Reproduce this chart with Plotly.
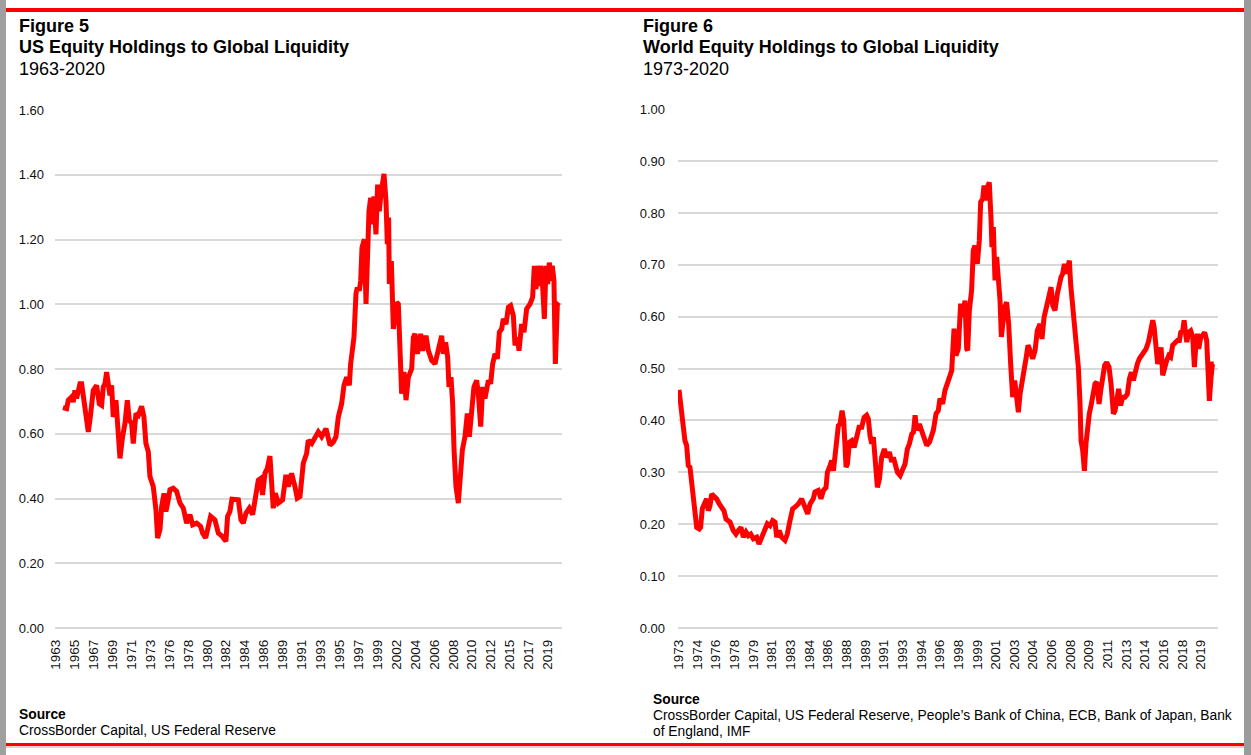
import plotly.graph_objects as go

W, H = 1251, 755

# Figure 5: US equity holdings / global liquidity (decimal years, ratio)
US_YEARS = [
    1963.82, 1964.24, 1964.43, 1964.81, 1965.00, 1965.19, 1965.38, 1965.58, 1965.77, 1965.96,
    1966.15, 1966.34, 1966.53, 1966.72, 1966.91, 1967.10, 1967.29, 1967.67, 1967.98, 1968.25,
    1968.44, 1968.63, 1968.82, 1969.01, 1969.20, 1969.39, 1969.51, 1969.58, 1969.89, 1970.08,
    1970.35, 1970.65, 1970.92, 1971.19, 1971.42, 1971.68, 1971.87, 1972.18, 1972.45, 1972.83,
    1973.09, 1973.32, 1973.59, 1973.78, 1974.16, 1974.47, 1974.66, 1974.93, 1975.12, 1975.39,
    1975.61, 1975.88, 1976.07, 1976.45, 1976.84, 1977.22, 1977.60, 1977.98, 1978.36, 1978.67,
    1979.13, 1979.58, 1979.81, 1980.16, 1980.46, 1980.73, 1981.22, 1981.61, 1981.99, 1982.26,
    1982.48, 1982.67, 1982.94, 1983.17, 1983.52, 1983.90, 1984.20, 1984.47, 1984.78, 1985.16,
    1985.54, 1985.92, 1986.19, 1986.45, 1986.68, 1986.95, 1987.22, 1987.52, 1987.71, 1987.90,
    1988.13, 1988.48, 1988.97, 1989.35, 1989.62, 1990.00, 1990.38, 1990.65, 1990.96, 1991.34,
    1991.72, 1991.91, 1992.30, 1992.68, 1993.06, 1993.44, 1993.94, 1994.40, 1994.78, 1995.08,
    1995.35, 1995.73, 1996.00, 1996.30, 1996.61, 1996.76, 1996.99, 1997.14, 1997.37, 1997.52,
    1997.75, 1997.91, 1998.06, 1998.33, 1998.52, 1998.71, 1998.86, 1999.05, 1999.28, 1999.43,
    1999.66, 1999.85, 2000.04, 2000.23, 2000.58, 2000.81, 2000.96, 2001.11, 2001.19, 2001.42,
    2001.65, 2001.84, 2002.03, 2002.22, 2002.41, 2002.60, 2002.87, 2003.10, 2003.37, 2003.75,
    2003.94, 2004.13, 2004.40, 2004.78, 2005.01, 2005.39, 2005.66, 2006.04, 2006.42, 2006.80,
    2007.18, 2007.37, 2007.64, 2007.87, 2008.02, 2008.25, 2008.44, 2008.60, 2008.82, 2009.09,
    2009.28, 2009.55, 2009.85, 2010.12, 2010.35, 2010.62, 2010.88, 2011.19, 2011.38, 2011.65,
    2011.88, 2012.14, 2012.53, 2012.79, 2013.02, 2013.29, 2013.56, 2013.79, 2014.05, 2014.24,
    2014.55, 2014.82, 2015.08, 2015.39, 2015.58, 2015.85, 2016.04, 2016.34, 2016.61, 2016.91,
    2017.30, 2017.60, 2017.79, 2017.98, 2018.14, 2018.37, 2018.52, 2018.75, 2018.94, 2019.13,
    2019.32, 2019.51, 2019.70, 2019.85, 2020.04, 2020.20, 2020.43, 2020.58,
]
US_VALUES = [
    0.681, 0.678, 0.704, 0.714, 0.698, 0.734, 0.709, 0.745, 0.755, 0.755,
    0.714, 0.673, 0.632, 0.606, 0.642, 0.693, 0.734, 0.750, 0.693, 0.688,
    0.745, 0.755, 0.791, 0.755, 0.719, 0.750, 0.693, 0.652, 0.704, 0.622,
    0.524, 0.591, 0.632, 0.704, 0.642, 0.632, 0.570, 0.663, 0.657, 0.685,
    0.652, 0.570, 0.545, 0.468, 0.437, 0.365, 0.278, 0.304, 0.375, 0.416,
    0.360, 0.396, 0.427, 0.432, 0.422, 0.386, 0.370, 0.324, 0.350, 0.319,
    0.324, 0.314, 0.293, 0.278, 0.314, 0.345, 0.334, 0.293, 0.285, 0.278,
    0.268, 0.345, 0.360, 0.398, 0.396, 0.396, 0.334, 0.324, 0.355, 0.370,
    0.350, 0.406, 0.457, 0.462, 0.411, 0.478, 0.493, 0.531, 0.427, 0.370,
    0.416, 0.386, 0.396, 0.473, 0.437, 0.478, 0.437, 0.401, 0.406, 0.509,
    0.539, 0.580, 0.570, 0.591, 0.606, 0.591, 0.616, 0.565, 0.575, 0.591,
    0.652, 0.693, 0.750, 0.775, 0.750, 0.816, 0.857, 0.898, 1.032, 1.052,
    1.042, 1.073, 1.175, 1.201, 1.001, 1.196, 1.288, 1.329, 1.247, 1.334,
    1.216, 1.370, 1.288, 1.340, 1.403, 1.319, 1.186, 1.268, 1.063, 1.134,
    0.924, 0.960, 1.006, 1.001, 0.888, 0.724, 0.791, 0.704, 0.775, 0.801,
    0.898, 0.909, 0.847, 0.909, 0.857, 0.903, 0.857, 0.827, 0.816, 0.868,
    0.903, 0.847, 0.883, 0.837, 0.745, 0.775, 0.693, 0.550, 0.437, 0.386,
    0.457, 0.550, 0.591, 0.663, 0.591, 0.673, 0.745, 0.765, 0.724, 0.622,
    0.745, 0.709, 0.765, 0.755, 0.816, 0.847, 0.832, 0.914, 0.924, 0.955,
    0.939, 0.991, 0.996, 0.965, 0.873, 0.898, 0.857, 0.939, 0.914, 0.986,
    1.001, 1.022, 1.119, 1.047, 1.119, 1.057, 1.119, 1.052, 0.955, 1.119,
    1.063, 1.129, 1.073, 1.119, 1.073, 0.816, 1.001, 1.006,
]
US_TICK_LABELS = [
    "1963", "1965", "1967", "1969", "1971", "1973", "1976", "1978", "1980",
    "1982", "1984", "1986", "1989", "1991", "1993", "1995", "1997", "1999",
    "2002", "2004", "2006", "2008", "2010", "2012", "2015", "2017", "2019",
]

# Figure 6: world equity holdings / global liquidity
WORLD_YEARS = [
    1973.02, 1973.17, 1973.26, 1973.41, 1973.55, 1973.70, 1973.85, 1974.00, 1974.15, 1974.30,
    1974.45, 1974.60, 1974.84, 1974.95, 1975.10, 1975.34, 1975.49, 1975.64, 1975.79, 1975.94,
    1976.15, 1976.38, 1976.62, 1976.83, 1977.04, 1977.22, 1977.58, 1977.87, 1978.11, 1978.32,
    1978.56, 1978.77, 1979.01, 1979.22, 1979.43, 1979.66, 1979.96, 1980.17, 1980.41, 1980.71,
    1980.91, 1981.15, 1981.39, 1981.60, 1981.75, 1981.98, 1982.19, 1982.49, 1982.70, 1982.94,
    1983.18, 1983.39, 1983.68, 1983.98, 1984.22, 1984.52, 1984.73, 1985.02, 1985.17, 1985.47,
    1985.71, 1985.92, 1986.16, 1986.28, 1986.52, 1986.67, 1986.82, 1986.97, 1987.11, 1987.26,
    1987.41, 1987.59, 1987.74, 1987.83, 1987.95, 1988.07, 1988.25, 1988.46, 1988.67, 1988.90,
    1989.11, 1989.35, 1989.56, 1989.79, 1989.94, 1990.09, 1990.24, 1990.39, 1990.54, 1990.75,
    1990.93, 1991.13, 1991.37, 1991.58, 1991.82, 1992.03, 1992.18, 1992.33, 1992.54, 1992.78,
    1993.01, 1993.22, 1993.43, 1993.61, 1993.82, 1993.97, 1994.12, 1994.26, 1994.50, 1994.71,
    1994.92, 1995.16, 1995.40, 1995.75, 1995.99, 1996.19, 1996.34, 1996.58, 1996.79, 1997.00,
    1997.18, 1997.39, 1997.60, 1997.77, 1997.98, 1998.19, 1998.37, 1998.58, 1998.73, 1998.82,
    1998.97, 1999.17, 1999.32, 1999.47, 1999.68, 1999.86, 1999.98, 2000.16, 2000.28, 2000.46,
    2000.58, 2000.75, 2000.90, 2000.99, 2001.11, 2001.26, 2001.41, 2001.56, 2001.71, 2001.83,
    2001.95, 2002.12, 2002.30, 2002.48, 2002.66, 2002.84, 2003.02, 2003.20, 2003.35, 2003.50,
    2003.67, 2003.85, 2004.03, 2004.21, 2004.39, 2004.63, 2004.84, 2005.04, 2005.28, 2005.46,
    2005.64, 2005.82, 2005.97, 2006.12, 2006.27, 2006.42, 2006.62, 2006.83, 2007.01, 2007.16,
    2007.31, 2007.46, 2007.61, 2007.76, 2007.91, 2008.02, 2008.17, 2008.29, 2008.44, 2008.56,
    2008.71, 2008.86, 2008.95, 2009.10, 2009.25, 2009.39, 2009.51, 2009.69, 2009.87, 2010.05,
    2010.20, 2010.35, 2010.56, 2010.71, 2010.88, 2011.06, 2011.24, 2011.45, 2011.63, 2011.84,
    2011.99, 2012.14, 2012.31, 2012.49, 2012.67, 2012.88, 2013.09, 2013.27, 2013.45, 2013.63,
    2013.80, 2013.98, 2014.16, 2014.37, 2014.58, 2014.76, 2014.97, 2015.18, 2015.36, 2015.48,
    2015.65, 2015.80, 2015.95, 2016.10, 2016.25, 2016.40, 2016.61, 2016.79, 2016.96, 2017.14,
    2017.35, 2017.56, 2017.74, 2017.86, 2018.04, 2018.16, 2018.28, 2018.40, 2018.57, 2018.75,
    2018.93, 2019.08, 2019.20, 2019.35, 2019.47, 2019.65, 2019.82, 2020.00, 2020.18, 2020.30,
    2020.42, 2020.57, 2020.69, 2020.81,
]
WORLD_VALUES = [
    0.459, 0.432, 0.397, 0.371, 0.361, 0.352, 0.313, 0.310, 0.284, 0.265,
    0.226, 0.194, 0.191, 0.194, 0.230, 0.242, 0.249, 0.226, 0.236, 0.258,
    0.255, 0.249, 0.239, 0.233, 0.226, 0.210, 0.204, 0.188, 0.181, 0.188,
    0.194, 0.175, 0.185, 0.178, 0.181, 0.172, 0.175, 0.162, 0.175, 0.191,
    0.201, 0.197, 0.207, 0.204, 0.175, 0.188, 0.175, 0.169, 0.181, 0.207,
    0.230, 0.233, 0.239, 0.249, 0.236, 0.220, 0.239, 0.249, 0.262, 0.265,
    0.249, 0.265, 0.271, 0.300, 0.313, 0.323, 0.303, 0.342, 0.361, 0.390,
    0.393, 0.419, 0.400, 0.342, 0.310, 0.316, 0.358, 0.361, 0.348, 0.368,
    0.387, 0.387, 0.406, 0.410, 0.403, 0.371, 0.355, 0.368, 0.323, 0.271,
    0.287, 0.329, 0.345, 0.329, 0.339, 0.320, 0.329, 0.316, 0.300, 0.294,
    0.307, 0.316, 0.345, 0.355, 0.374, 0.377, 0.410, 0.381, 0.393, 0.381,
    0.365, 0.352, 0.358, 0.381, 0.413, 0.419, 0.442, 0.432, 0.458, 0.471,
    0.483, 0.496, 0.577, 0.525, 0.538, 0.625, 0.599, 0.631, 0.538, 0.535,
    0.612, 0.651, 0.728, 0.737, 0.702, 0.747, 0.821, 0.827, 0.853, 0.824,
    0.850, 0.859, 0.792, 0.734, 0.773, 0.670, 0.715, 0.670, 0.631, 0.561,
    0.593, 0.618, 0.628, 0.586, 0.509, 0.445, 0.477, 0.432, 0.416, 0.451,
    0.483, 0.496, 0.519, 0.545, 0.535, 0.519, 0.535, 0.573, 0.586, 0.557,
    0.598, 0.618, 0.634, 0.651, 0.657, 0.622, 0.612, 0.644, 0.667, 0.676,
    0.683, 0.702, 0.683, 0.702, 0.708, 0.663, 0.625, 0.586, 0.554, 0.522,
    0.503, 0.432, 0.361, 0.342, 0.303, 0.355, 0.381, 0.413, 0.432, 0.451,
    0.471, 0.474, 0.432, 0.458, 0.483, 0.506, 0.512, 0.503, 0.471, 0.413,
    0.419, 0.445, 0.461, 0.429, 0.445, 0.445, 0.451, 0.480, 0.493, 0.477,
    0.496, 0.509, 0.519, 0.525, 0.535, 0.538, 0.551, 0.580, 0.593, 0.580,
    0.548, 0.509, 0.522, 0.541, 0.487, 0.503, 0.516, 0.525, 0.522, 0.545,
    0.551, 0.554, 0.554, 0.570, 0.573, 0.593, 0.570, 0.551, 0.570, 0.573,
    0.561, 0.503, 0.541, 0.567, 0.538, 0.561, 0.564, 0.570, 0.554, 0.483,
    0.438, 0.483, 0.509, 0.509,
]
WORLD_TICK_LABELS = [
    "1973", "1974", "1976", "1978", "1979", "1981", "1983", "1984", "1986", "1988",
    "1989", "1991", "1993", "1994", "1996", "1998", "1999", "2001", "2003", "2004",
    "2006", "2008", "2009", "2011", "2013", "2014", "2016", "2018", "2019",
]

FONT = "Arial, Liberation Sans, sans-serif"
RED = "#ff0000"
GRID = "#d9d9d9"


def px(x):
    return x / W


def py(y):
    return 1 - y / H


fig = go.Figure()
fig.add_trace(go.Scatter(x=US_YEARS, y=US_VALUES, mode="lines",
                         line=dict(color=RED, width=5), xaxis="x", yaxis="y"))
fig.add_trace(go.Scatter(x=WORLD_YEARS, y=WORLD_VALUES, mode="lines",
                         line=dict(color=RED, width=5), xaxis="x2", yaxis="y2"))

xcommon = dict(tickangle=-90, showgrid=False, zeroline=False, showline=False, ticks="",
               tickfont=dict(family=FONT, size=13.5, color="#111"), ticklabelstandoff=8)
ycommon = dict(tickformat=".2f", showgrid=True, gridcolor=GRID, gridwidth=1.5,
               zeroline=True, zerolinecolor=GRID, zerolinewidth=1.5, showline=False,
               ticks="", tickfont=dict(family=FONT, size=13, color="#111"))

# no fixed width/height: the figure fills the browser window
fig.update_layout(
    autosize=True, margin=dict(l=0, r=0, t=0, b=0, autoexpand=False),
    paper_bgcolor="white", plot_bgcolor="white", showlegend=False,
    font=dict(family=FONT, color="#000"),
    xaxis=dict(domain=[px(55), px(562)], range=[1962.91, 2020.96],
               tickvals=[1963 + k * 26 / 12 for k in range(len(US_TICK_LABELS))],
               ticktext=US_TICK_LABELS, **xcommon),
    yaxis=dict(domain=[py(628), py(110)], range=[0, 1.6005], dtick=0.2,
               ticklabelstandoff=10, **ycommon),
    xaxis2=dict(domain=[px(678), px(1218)], range=[1972.93, 2021.19], anchor="y2",
                tickvals=[1973 + k * 20 / 12 for k in range(len(WORLD_TICK_LABELS))],
                ticktext=WORLD_TICK_LABELS, **xcommon),
    yaxis2=dict(domain=[py(628), py(109)], range=[0, 1.0004], dtick=0.1, anchor="x2",
                ticklabelstandoff=12, **ycommon),
)

texts = [
    (17, 26, "<b>Figure 5</b>", 18),
    (17, 47, "<b>US Equity Holdings to Global Liquidity</b>", 18),
    (17, 69, "1963-2020", 18),
    (641, 26, "<b>Figure 6</b>", 18),
    (641, 47, "<b>World Equity Holdings to Global Liquidity</b>", 18),
    (641, 69, "1973-2020", 18),
    (17, 714, "<b>Source</b>", 13.8),
    (17, 730, "CrossBorder Capital, US Federal Reserve", 13.8),
    (651, 699, "<b>Source</b>", 13.8),
    (651, 715, "CrossBorder Capital, US Federal Reserve, People\u2019s Bank of China, ECB, Bank of Japan, Bank", 13.8),
    (651, 731, "of England, IMF", 13.8),
]
for x, y, t, s in texts:
    fig.add_annotation(x=px(x), y=py(y), xref="paper", yref="paper", text=t,
                       showarrow=False, xanchor="left", yanchor="middle",
                       font=dict(family=FONT, size=s, color="#000"))

# page frame: grey side bars, red rules
fig.add_shape(type="rect", xref="paper", yref="paper", x0=0, x1=px(6), y0=0, y1=1,
              fillcolor="#a0a0a0", line_width=0)
fig.add_shape(type="rect", xref="paper", yref="paper", x0=px(1244), x1=1, y0=0, y1=1,
              fillcolor="#9b9b9b", line_width=0)
fig.add_shape(type="rect", xref="paper", yref="paper", x0=px(6), x1=px(1244),
              y0=py(12), y1=py(8), fillcolor=RED, line_width=0)
fig.add_shape(type="rect", xref="paper", yref="paper", x0=px(6), x1=px(1244),
              y0=py(746), y1=py(743), fillcolor=RED, line_width=0)
fig.add_shape(type="rect", xref="paper", yref="paper", x0=px(6), x1=px(1244),
              y0=py(748), y1=py(746), fillcolor="#ffc8c8", line_width=0)

pin = (
    "document.documentElement.style.overflow='hidden';"
    "document.body.style.margin='0';document.body.style.overflow='hidden';"
    "var d=document.getElementById('{plot_id}');"
    "d.style.position='fixed';d.style.left='0px';d.style.top='0px';"
    "d.style.width='100vw';d.style.height='100vh';"
    "Plotly.Plots.resize(d);"
)
fig.write_html("out.html", default_width="100vw", default_height="100vh",
               config={"displayModeBar": False, "responsive": True}, post_script=pin)
